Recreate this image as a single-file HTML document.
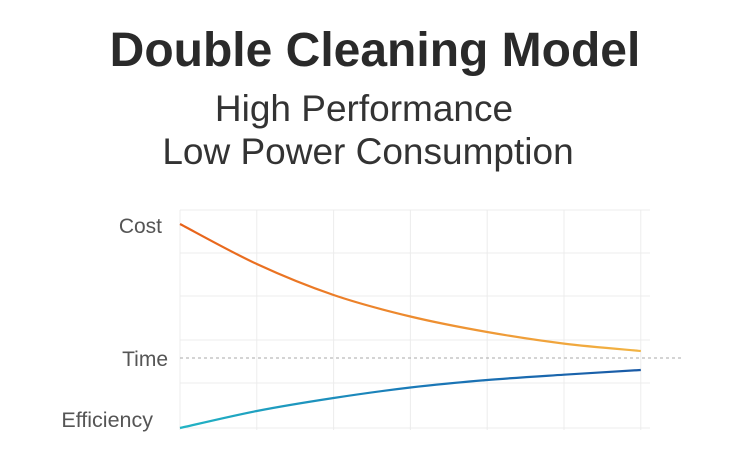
<!DOCTYPE html>
<html><head><meta charset="utf-8"><style>
body{margin:0;width:750px;height:464px;background:#fff;font-family:"Liberation Sans",sans-serif;overflow:hidden;position:relative}
.t{position:absolute;left:0;width:750px;text-align:center;color:#333}
</style></head><body>
<div class="t" style="top:23px;font-size:48px;font-weight:bold;color:#2a2a2a;left:0px">Double Cleaning Model</div>
<div class="t" style="top:88px;font-size:37px;left:-11px">High Performance</div>
<div class="t" style="top:131px;font-size:37px;left:-7px">Low Power Consumption</div>
<svg width="750" height="464" style="position:absolute;left:0;top:0">
<defs>
<linearGradient id="go" x1="0" x2="1"><stop offset="0" stop-color="#e8621a"/><stop offset="1" stop-color="#f2b444"/></linearGradient>
<linearGradient id="gb" x1="0" x2="1"><stop offset="0" stop-color="#22b4c4"/><stop offset="0.5" stop-color="#1a7ab8"/><stop offset="1" stop-color="#1a5aa6"/></linearGradient>
</defs>
<g id="grid"></g>
<line x1="180" x2="682" y1="358" y2="358" stroke="#aaa" stroke-dasharray="3,3"/>
<text x="162" y="233" text-anchor="end" font-size="21" fill="#555">Cost</text>
<text x="168" y="366" text-anchor="end" font-size="21" fill="#555">Time</text>
<text x="153" y="427" text-anchor="end" font-size="21.5" fill="#555">Efficiency</text>
<g id="lines"></g>
</svg>
<script>
const steps=[0,1,2,3,4,5,6];
const costValues=[134,94,63,41.5,26,14.4,7];
const efficiencyValues=[-70,-53,-40,-29.5,-22,-16.7,-12];
const gridRows=[148,105,62,18,-25,-70];
const ns="http://www.w3.org/2000/svg";
const xs=i=>180+i*76.8;
const ys=v=>358-v;
const grid=document.getElementById('grid');
steps.forEach(i=>{const l=document.createElementNS(ns,'line');
l.setAttribute('x1',xs(i));l.setAttribute('x2',xs(i));l.setAttribute('y1',210);l.setAttribute('y2',430);l.setAttribute('stroke','#ececec');


grid.appendChild(l);});
gridRows.forEach(v=>{const l=document.createElementNS(ns,'line');
l.setAttribute('x1',180);l.setAttribute('x2',650);l.setAttribute('y1',ys(v));l.setAttribute('y2',ys(v));l.setAttribute('stroke','#ececec');


grid.appendChild(l);});
function curve(vals){const p=vals.map((v,i)=>[xs(i),ys(v)]);let d='M'+p[0];
for(let i=0;i<p.length-1;i++){const p0=p[i-1]||p[i],p1=p[i],p2=p[i+1],p3=p[i+2]||p2;
d+=' C'+(p1[0]+(p2[0]-p0[0])/6)+','+(p1[1]+(p2[1]-p0[1])/6)+' '+(p2[0]-(p3[0]-p1[0])/6)+','+(p2[1]-(p3[1]-p1[1])/6)+' '+p2;}return d;}
const g=document.getElementById('lines');
const c=document.createElementNS(ns,'path');c.setAttribute('d',curve(costValues));c.setAttribute('fill','none');c.setAttribute('stroke','url(#go)');c.setAttribute('stroke-width','2.2');


g.appendChild(c);
const e=document.createElementNS(ns,'path');e.setAttribute('d',curve(efficiencyValues));e.setAttribute('fill','none');e.setAttribute('stroke','url(#gb)');e.setAttribute('stroke-width','2.2');


g.appendChild(e);
</script>
</body></html>
